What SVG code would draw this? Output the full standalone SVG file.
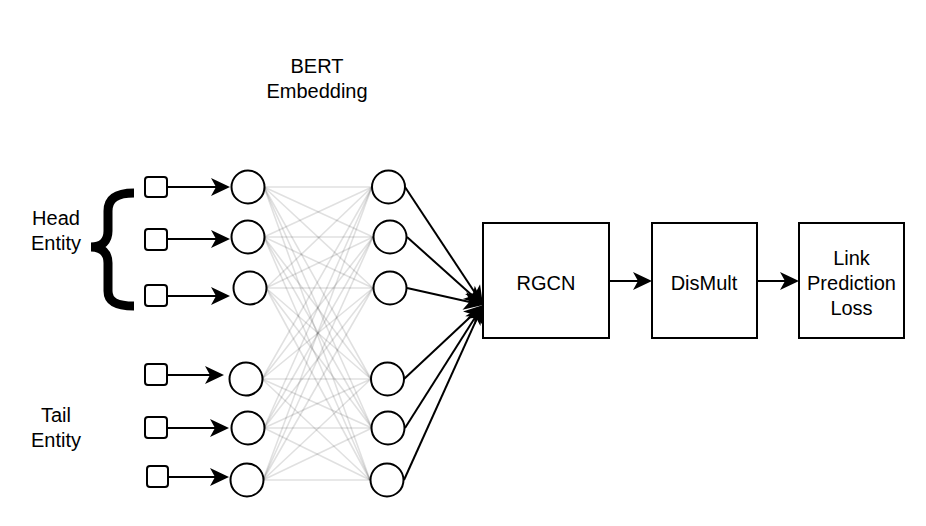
<svg xmlns="http://www.w3.org/2000/svg" width="926" height="526" viewBox="0 0 926 526">
  <style>
    text { font-family: "Liberation Sans", Arial, Helvetica, sans-serif; font-size: 20px; fill: #000; text-anchor: middle; }
    .box { fill: #fff; stroke: #000; stroke-width: 2; }
    .sq { fill: #fff; stroke: #000; stroke-width: 2; }
    .neuron { fill: #fff; stroke: #000; stroke-width: 2; }
    .mesh line { stroke: #000; stroke-opacity: 0.12; stroke-width: 1.6; }
    .arrow { stroke: #000; stroke-width: 2; fill: none; marker-end: url(#head); }
  </style>
  <defs>
    <marker id="head" markerUnits="userSpaceOnUse" markerWidth="24" markerHeight="22" viewBox="-13 -11 24 22" refX="0" refY="0" orient="auto">
      <path d="M8,0 L-11,-9 L-6,0 L-11,9 Z" fill="#000"/>
    </marker>
  </defs>
  <rect width="926" height="526" fill="#fff"/>

  <g id="mesh" class="mesh">
    <line x1="264" y1="187" x2="372" y2="187"/><line x1="264" y1="187" x2="373" y2="237"/><line x1="264" y1="187" x2="373" y2="288"/><line x1="264" y1="187" x2="371" y2="379"/><line x1="264" y1="187" x2="372" y2="428"/><line x1="264" y1="187" x2="370" y2="480"/>
    <line x1="264" y1="237" x2="372" y2="187"/><line x1="264" y1="237" x2="373" y2="237"/><line x1="264" y1="237" x2="373" y2="288"/><line x1="264" y1="237" x2="371" y2="379"/><line x1="264" y1="237" x2="372" y2="428"/><line x1="264" y1="237" x2="370" y2="480"/>
    <line x1="266" y1="288" x2="372" y2="187"/><line x1="266" y1="288" x2="373" y2="237"/><line x1="266" y1="288" x2="373" y2="288"/><line x1="266" y1="288" x2="371" y2="379"/><line x1="266" y1="288" x2="372" y2="428"/><line x1="266" y1="288" x2="370" y2="480"/>
    <line x1="262" y1="379" x2="372" y2="187"/><line x1="262" y1="379" x2="373" y2="237"/><line x1="262" y1="379" x2="373" y2="288"/><line x1="262" y1="379" x2="371" y2="379"/><line x1="262" y1="379" x2="372" y2="428"/><line x1="262" y1="379" x2="370" y2="480"/>
    <line x1="264" y1="428" x2="372" y2="187"/><line x1="264" y1="428" x2="373" y2="237"/><line x1="264" y1="428" x2="373" y2="288"/><line x1="264" y1="428" x2="371" y2="379"/><line x1="264" y1="428" x2="372" y2="428"/><line x1="264" y1="428" x2="370" y2="480"/>
    <line x1="263" y1="480" x2="372" y2="187"/><line x1="263" y1="480" x2="373" y2="237"/><line x1="263" y1="480" x2="373" y2="288"/><line x1="263" y1="480" x2="371" y2="379"/><line x1="263" y1="480" x2="372" y2="428"/><line x1="263" y1="480" x2="370" y2="480"/>
  </g>

  <g id="connectors">
    <line class="arrow" x1="167" y1="187" x2="222" y2="187"/>
    <line class="arrow" x1="167" y1="239" x2="222" y2="239"/>
    <line class="arrow" x1="167" y1="296" x2="222" y2="296"/>
    <line class="arrow" x1="167" y1="375" x2="216" y2="375"/>
    <line class="arrow" x1="167" y1="428" x2="221" y2="428"/>
    <line class="arrow" x1="168" y1="477" x2="221" y2="477"/>

    <line class="arrow" x1="405" y1="187" x2="478.6" y2="298.3"/>
    <line class="arrow" x1="407" y1="237" x2="477.0" y2="299.7"/>
    <line class="arrow" x1="407" y1="288" x2="475.2" y2="303.3"/>
    <line class="arrow" x1="404" y1="379" x2="477.2" y2="310.5"/>
    <line class="arrow" x1="405" y1="428" x2="478.7" y2="311.8"/>
    <line class="arrow" x1="404" y1="480" x2="479.7" y2="312.3"/>

    <line class="arrow" x1="609" y1="281" x2="644" y2="281"/>
    <line class="arrow" x1="757" y1="281" x2="791" y2="281"/>
  </g>

  <g id="label-bert">
    <text x="317" y="73">BERT</text>
    <text x="317" y="98">Embedding</text>
  </g>

  <g id="head-entity">
    <text x="56" y="225">Head</text>
    <text x="56" y="250">Entity</text>
    <path d="M134,193 C117,193 108,198 108,211 L108,231 C108,241 102,247 91,247 C102,247 108,253 108,263 L108,291 C108,302 117,306 134,306" fill="none" stroke="#000" stroke-width="9"/>
  </g>

  <g id="tail-entity">
    <text x="56" y="422">Tail</text>
    <text x="56" y="447">Entity</text>
  </g>

  <g id="inputs">
    <rect id="in1" class="sq" x="145" y="177" width="22" height="20" rx="3"/>
    <rect id="in2" class="sq" x="145" y="229" width="22" height="21" rx="3"/>
    <rect id="in3" class="sq" x="145" y="285" width="22" height="21" rx="3"/>
    <rect id="in4" class="sq" x="145" y="364" width="22" height="21" rx="3"/>
    <rect id="in5" class="sq" x="145" y="417" width="22" height="21" rx="3"/>
    <rect id="in6" class="sq" x="147" y="466" width="21" height="21" rx="3"/>
  </g>

  <g id="layer1">
    <circle id="l1n1" class="neuron" cx="248" cy="187" r="16.5"/>
    <circle id="l1n2" class="neuron" cx="248" cy="237" r="16.5"/>
    <circle id="l1n3" class="neuron" cx="250" cy="288" r="16.5"/>
    <circle id="l1n4" class="neuron" cx="246" cy="379" r="16.5"/>
    <circle id="l1n5" class="neuron" cx="248" cy="428" r="16.5"/>
    <circle id="l1n6" class="neuron" cx="247" cy="480" r="16.5"/>
  </g>

  <g id="layer2">
    <circle id="l2n1" class="neuron" cx="388.5" cy="187" r="16.5"/>
    <circle id="l2n2" class="neuron" cx="390" cy="237" r="16.5"/>
    <circle id="l2n3" class="neuron" cx="390" cy="288" r="16.5"/>
    <circle id="l2n4" class="neuron" cx="387.5" cy="379" r="16.5"/>
    <circle id="l2n5" class="neuron" cx="388" cy="428" r="16.5"/>
    <circle id="l2n6" class="neuron" cx="387" cy="480" r="16.5"/>
  </g>

  <g id="rgcn">
    <rect class="box" x="483" y="223" width="126" height="115"/>
    <text x="546" y="290">RGCN</text>
  </g>

  <g id="dismult">
    <rect class="box" x="652" y="223" width="105" height="115"/>
    <text x="704" y="290">DisMult</text>
  </g>

  <g id="loss">
    <rect class="box" x="799" y="223" width="105" height="115"/>
    <text x="851.5" y="265">Link</text>
    <text x="851.5" y="290">Prediction</text>
    <text x="851.5" y="315">Loss</text>
  </g>
</svg>
